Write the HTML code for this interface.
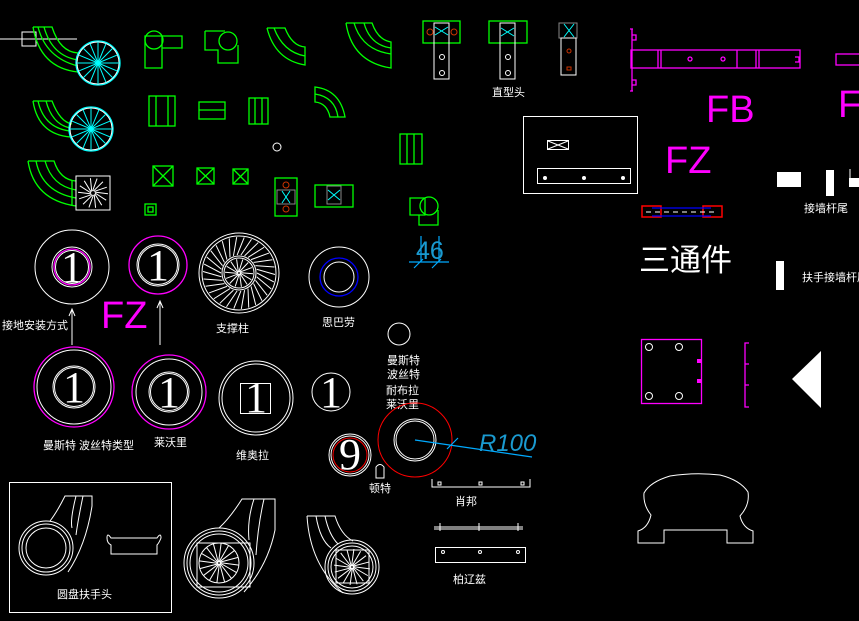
<!DOCTYPE html>
<html><head><meta charset="utf-8"><style>
html,body{margin:0;padding:0;background:#000;width:859px;height:621px;overflow:hidden}
svg{display:block}
text{font-family:"Liberation Sans","Noto Sans CJK SC",sans-serif}
.w{fill:none;stroke:#fff;stroke-width:1}
.g{fill:none;stroke:#0f0;stroke-width:1.3}
.m{fill:none;stroke:#f0f;stroke-width:1.3}
.c{fill:none;stroke:#0ff;stroke-width:1.3}
.lb{fill:#fff;font-size:11px}
.num{font-family:"Liberation Serif",serif;fill:#fff;font-size:44px}
</style></head><body>
<svg id="s" width="859" height="621" viewBox="0 0 859 621" xmlns="http://www.w3.org/2000/svg">
<line x1="0" y1="39" x2="77" y2="39" stroke="#fff"/>
<rect x="22" y="32" width="14" height="14" class="w"/>
<path class="g" d="M33 27 H52 Q60 52 78 53 M38 27 Q46 58 78 66 M44 27 Q52 56 78 60 M33 27 Q40 68 78 72"/>
<circle cx="98" cy="63" r="22" class="c"/><circle cx="98" cy="63" r="21" class="w"/>
<path class="g" d="M33 101 H52 Q60 122 72 124 M33 101 Q38 134 70 137 M38 101 Q44 128 70 131 M46 101 Q52 124 70 128"/>
<circle cx="91" cy="129" r="22" class="c"/><circle cx="91" cy="129" r="21" class="w"/>
<path class="g" d="M28 161 H54 Q60 180 76 181 M28 161 Q34 200 76 206 M36 161 Q42 192 76 198 M45 161 Q52 186 76 190 M72 180 V206"/>
<rect x="76" y="176" width="34" height="34" class="w"/>
<g id="spk"></g>
<path class="g" d="M145 36 H182 V48 H162 V68 H145 Z M162 36 V48"/><circle cx="154" cy="40" r="9" class="g"/>
<path class="g" d="M205 31 H225 M205 31 V50 H218 V63 H238 V45"/><circle cx="228" cy="41" r="9" class="g"/>
<path class="g" d="M267 28 H285 Q292 46 305 47 V65 Q275 60 267 28 M274 28 Q283 52 305 56"/>
<path class="g" d="M346 23 H372 Q378 40 391 42 V68 Q352 62 346 23 M354 23 Q362 50 391 54 M364 23 Q370 45 391 48"/>
<rect x="149" y="96" width="26" height="30" class="g"/><path class="g" d="M156 96 V126 M168 96 V126"/>
<rect x="199" y="102" width="26" height="17" class="g"/><path class="g" d="M199 110 H225"/>
<rect x="249" y="98" width="19" height="26" class="g"/><path class="g" d="M255 98 V124 M262 98 V124"/>
<path class="g" d="M315 87 Q340 90 345 117 H330 Q327 103 315 102 Z M315 94 Q335 97 338 117"/>
<rect x="400" y="134" width="22" height="30" class="g"/><path class="g" d="M407 134 V164 M414 134 V164"/>
<circle cx="277" cy="147" r="4" class="w"/>
<rect x="153" y="166" width="20" height="20" class="g"/><path class="g" d="M153 166 L173 186 M173 166 L153 186"/>
<rect x="197" y="168" width="17" height="16" class="g"/><path class="g" d="M197 168 L214 184 M214 168 L197 184"/>
<rect x="233" y="169" width="15" height="15" class="g"/><path class="g" d="M233 169 L248 184 M248 169 L233 184"/>
<rect x="145" y="204" width="11" height="11" class="g"/><rect x="148" y="207" width="5" height="5" class="g"/>
<rect x="275" y="178" width="22" height="38" class="g"/><rect x="277" y="190" width="18" height="14" fill="none" stroke="#888"/>
<path stroke="#0ff" d="M282 191 L290 203 M290 191 L282 203"/><circle cx="286" cy="185" r="3" fill="none" stroke="#c30"/><circle cx="286" cy="209" r="3" fill="none" stroke="#c30"/>
<rect x="315" y="185" width="38" height="22" class="g"/><rect x="327" y="186" width="14" height="18" fill="none" stroke="#888"/>
<path stroke="#0ff" d="M328 190 L340 200 M340 190 L328 200"/>
<path class="g" d="M410 198 H425 V215 H410 Z M419 215 V225 H438 V210"/><circle cx="429" cy="206" r="9" class="g"/>
<rect x="423" y="21" width="37" height="22" class="g"/><rect x="434" y="23" width="15" height="56" class="w"/><path stroke="#0ff" d="M435 27 L448 35 M448 27 L435 35"/><circle cx="430" cy="32" r="3" fill="none" stroke="#c30"/><circle cx="454" cy="32" r="3" fill="none" stroke="#c30"/><circle cx="442" cy="57" r="2.5" class="w"/><circle cx="442" cy="73" r="2.5" class="w"/>
<rect x="489" y="21" width="38" height="22" class="g"/><rect x="500" y="23" width="15" height="56" class="w"/><path stroke="#0ff" d="M501 28 L514 36 M514 28 L501 36"/><circle cx="508" cy="57" r="2.5" class="w"/><circle cx="508" cy="73" r="2.5" class="w"/>
<rect x="559" y="23" width="18" height="15" fill="none" stroke="#888"/><rect x="561" y="38" width="15" height="37" class="w"/><path stroke="#0ff" d="M564 24 L574 37 M574 24 L564 37"/><circle cx="569" cy="51" r="2" fill="none" stroke="#c30"/><rect x="567" y="67" width="4" height="3" fill="none" stroke="#c30"/>
<text x="492" y="96" class="lb">直型头</text>
<rect x="523.5" y="116.5" width="114" height="77" class="w"/><rect x="547.5" y="140.5" width="21" height="9" class="w"/><path stroke="#fff" d="M548 141 L568 149 M568 141 L548 149"/>
<rect x="537.5" y="168.5" width="93" height="15" class="w"/><circle cx="545" cy="178" r="2" fill="#fff"/><circle cx="584" cy="178" r="2" fill="#fff"/><circle cx="623" cy="178" r="2" fill="#fff"/>
<path class="m" d="M632 29 V91 M630 29 H633 M630 91 H633 M632 35 H636 V40 H632 M632 80 H636 V85 H632"/>
<rect x="631" y="50" width="169" height="18" class="m"/><path class="m" d="M658 50 V68 M661 50 V68 M737 50 V68 M756 50 V68 M759 50 V68 M795 57 H799 V62 H795"/>
<circle cx="690" cy="59" r="2" class="m"/><circle cx="723" cy="59" r="2" class="m"/>
<rect x="836" y="54" width="24" height="11" class="m"/>
<text x="706" y="122" fill="#f0f" font-size="38">FB</text>
<text x="838" y="117" fill="#f0f" font-size="38">F</text>
<text x="665" y="173" fill="#f0f" font-size="38">FZ</text>
<text x="101" y="328" fill="#f0f" font-size="38">FZ</text>
<rect x="642" y="206" width="19" height="11" fill="none" stroke="#f00" stroke-width="1.5"/><rect x="703" y="206" width="19" height="11" fill="none" stroke="#f00" stroke-width="1.5"/>
<path stroke="#00f" stroke-width="1.3" fill="none" d="M652 208 H711 M652 216 H711"/><path stroke="#fff" stroke-dasharray="5 4" d="M646 212 H718"/>
<text x="639" y="271" fill="#fff" font-size="31" font-family="Liberation Serif,Noto Serif CJK SC,serif">三通件</text>
<rect x="777" y="172" width="24" height="15" fill="#fff"/><rect x="826" y="170" width="8" height="26" fill="#fff"/><rect x="849" y="178" width="10" height="9" fill="#fff"/><line x1="850" y1="169" x2="850" y2="180" stroke="#fff"/>
<text x="804" y="212" class="lb">接墙杆尾</text>
<rect x="776" y="261" width="8" height="29" fill="#fff"/>
<text x="802" y="281" class="lb">扶手接墙杆尾</text>
<rect x="641.5" y="339.5" width="60" height="64" class="m"/>
<circle cx="649" cy="347" r="3.5" class="w"/><circle cx="679" cy="347" r="3.5" class="w"/><circle cx="649" cy="396" r="3.5" class="w"/><circle cx="679" cy="396" r="3.5" class="w"/>
<rect x="697" y="359" width="5" height="4" fill="#f0f"/><rect x="697" y="379" width="5" height="4" fill="#f0f"/>
<path class="m" d="M749 343 H745 V407 H749 M745 364 H749 M745 385 H749"/>
<polygon points="792,379 821,351 821,408" fill="#fff"/>
<path class="w" d="M638 543 V531 Q648 528 651 515 Q643 505 644 493 Q650 482 670 476 Q695 472 720 475 Q740 480 748 492 Q750 505 740 516 Q743 528 753 531 V543 H727 V530 H664 V543 Z"/>
<!-- row 1 -->
<circle cx="72" cy="267" r="37" class="w"/><circle cx="72" cy="267" r="20" class="w"/><circle cx="72" cy="267" r="18" class="m"/><circle cx="72" cy="267" r="16.5" class="w"/>
<text x="72" y="282" class="num" text-anchor="middle">1</text>
<circle cx="158" cy="265" r="29" class="m"/><circle cx="158" cy="265" r="21" class="w"/><circle cx="158" cy="265" r="19.5" class="w"/>
<text x="158" y="280" class="num" text-anchor="middle">1</text>
<circle cx="239" cy="273" r="40" class="w"/><circle cx="239" cy="273" r="37" class="w"/><circle cx="239" cy="273" r="17" class="w"/><circle cx="239" cy="273" r="15" class="w"/>
<circle cx="339" cy="277" r="30" class="w"/><circle cx="339" cy="277" r="19" fill="none" stroke="#00f" stroke-width="1.3"/><circle cx="339" cy="277" r="15" class="w"/>
<text x="2" y="329" class="lb">接地安装方式</text>
<path class="w" d="M72 345 V310 M69 316 L72 309 L75 316"/><path class="w" d="M160 345 V302 M157 308 L160 301 L163 308"/>
<text x="216" y="332" class="lb">支撑柱</text><text x="322" y="326" class="lb">思巴劳</text>
<!-- row 2 -->
<circle cx="74" cy="387" r="40" class="m"/><circle cx="74" cy="387" r="37" class="w"/><circle cx="74" cy="387" r="21" class="w"/><circle cx="74" cy="387" r="19.5" class="w"/>
<text x="74" y="402" class="num" text-anchor="middle">1</text>
<circle cx="169" cy="392" r="37" class="m"/><circle cx="169" cy="392" r="33" class="w"/><circle cx="169" cy="392" r="20" class="w"/><circle cx="169" cy="392" r="18.5" class="w"/>
<text x="169" y="407" class="num" text-anchor="middle">1</text>
<circle cx="256" cy="398" r="37" class="w"/><circle cx="256" cy="398" r="34" class="w"/><rect x="240.5" y="383.5" width="30" height="30" class="w"/>
<text x="256" y="412" class="num" text-anchor="middle">1</text>
<circle cx="331" cy="392" r="19" class="w"/><text x="331" y="407" class="num" text-anchor="middle">1</text>
<text x="43" y="449" class="lb">曼斯特 波丝特类型</text><text x="154" y="446" class="lb">莱沃里</text><text x="236" y="459" class="lb">维奥拉</text>
<circle cx="399" cy="334" r="11" class="w"/>
<text x="387" y="364" class="lb">曼斯特</text><text x="387" y="378" class="lb">波丝特</text><text x="386" y="394" class="lb">耐布拉</text><text x="386" y="408" class="lb">莱沃里</text>
<circle cx="350" cy="455" r="21" class="w"/><circle cx="350" cy="455" r="19" class="w"/><circle cx="350" cy="455" r="17" fill="none" stroke="#f00"/>
<text x="350" y="469" class="num" text-anchor="middle" font-size="38">9</text>
<path class="w" d="M376 478 V467 Q380 462 384 467 V478 Z"/>
<text x="369" y="492" class="lb">顿特</text>
<circle cx="415" cy="440" r="37" fill="none" stroke="#f00"/><circle cx="415" cy="440" r="21" class="w"/><circle cx="415" cy="440" r="19" class="w"/>
<path stroke="#0af" stroke-width="1.2" d="M415 440 L532 457 M447 449 L458 438"/>
<text x="479" y="451" fill="#1a9ad0" font-size="24" font-style="italic" font-family="Liberation Serif,serif">R100</text>
<path stroke="#0af" stroke-width="1.2" d="M409 262 H449 M421 236 V262 M439 236 V262 M414 268 L423 259 M432 268 L441 259"/>
<text x="416" y="259" fill="#1a9ad0" font-size="25" font-family="Liberation Serif,serif">46</text>
<path class="w" d="M432 479 V487 H530 V479"/><rect x="438" y="482" width="3" height="3" class="w"/><rect x="479" y="482" width="3" height="3" class="w"/><rect x="521" y="482" width="3" height="3" class="w"/>
<text x="455" y="505" class="lb">肖邦</text>
<path class="w" d="M434 527 H523 M434 529 H523 M440 523 V531 M479 523 V531 M518 523 V531"/>
<rect x="435.5" y="547.5" width="90" height="15" class="w"/><circle cx="443" cy="552" r="1.5" class="w"/><circle cx="480" cy="552" r="1.5" class="w"/><circle cx="518" cy="552" r="1.5" class="w"/>
<text x="453" y="583" class="lb">柏辽兹</text>
<!-- bottom -->
<rect x="9.5" y="482.5" width="162" height="130" class="w"/>
<circle cx="46" cy="548" r="27" class="w"/><circle cx="46" cy="548" r="24" class="w"/><circle cx="46" cy="548" r="20" class="w"/>
<path class="w" d="M50 521 Q57 512 65 496 H92 V506 Q86 545 68 572 M76 496 Q70 520 72 528 M83 496 Q78 520 76 535"/>
<path class="w" d="M107 538 Q107 532 111 538 H157 Q161 532 161 538 Q159 543 157 545 V554 H111 V545 Q107 543 107 538"/>
<text x="57" y="598" class="lb">圆盘扶手头</text>
<circle cx="219" cy="563" r="35" class="w"/><circle cx="219" cy="563" r="32" class="w"/><circle cx="219" cy="563" r="29" class="w"/><rect x="197" y="543" width="53" height="44" class="w"/><circle cx="219" cy="563" r="20" class="w"/>
<path class="w" d="M219 528 Q230 518 242 499 H275 V530 Q268 565 244 592 M254 499 Q247 520 249 540 M264 499 Q258 525 256 555"/>
<circle cx="352" cy="567" r="27" class="w"/><circle cx="352" cy="567" r="24" class="w"/><circle cx="352" cy="567" r="21" class="w"/><rect x="336" y="550" width="33" height="33" class="w"/>
<path class="w" d="M307 516 H335 Q341 535 353 541 M307 516 Q310 565 343 593 M316 516 Q320 540 331 548 M325 516 Q329 535 338 544"/>
</svg>
<script>
var s=document.getElementById('spk'),ns='http://www.w3.org/2000/svg';
function L(x1,y1,x2,y2,c){var l=document.createElementNS(ns,'line');l.setAttribute('x1',x1);l.setAttribute('y1',y1);l.setAttribute('x2',x2);l.setAttribute('y2',y2);l.setAttribute('stroke',c);l.setAttribute('stroke-width','1');s.appendChild(l);}
function spokes(cx,cy,r0,r1,n,c,tw){for(var i=0;i<n;i++){var a=i*2*Math.PI/n,b=a+(tw||0);L(cx+r0*Math.cos(a),cy+r0*Math.sin(a),cx+r1*Math.cos(b),cy+r1*Math.sin(b),c);}}
spokes(98,63,0,21,16,'#0ff');spokes(91,129,0,21,16,'#0ff');
spokes(93,193,2,15,14,'#fff',0.5);
spokes(239,273,18,36,30,'#fff',0.25);spokes(239,273,1,14,14,'#fff',0.5);
spokes(219,563,1,20,16,'#fff',0.5);spokes(352,567,1,18,16,'#fff',0.5);
</script>
</body></html>
